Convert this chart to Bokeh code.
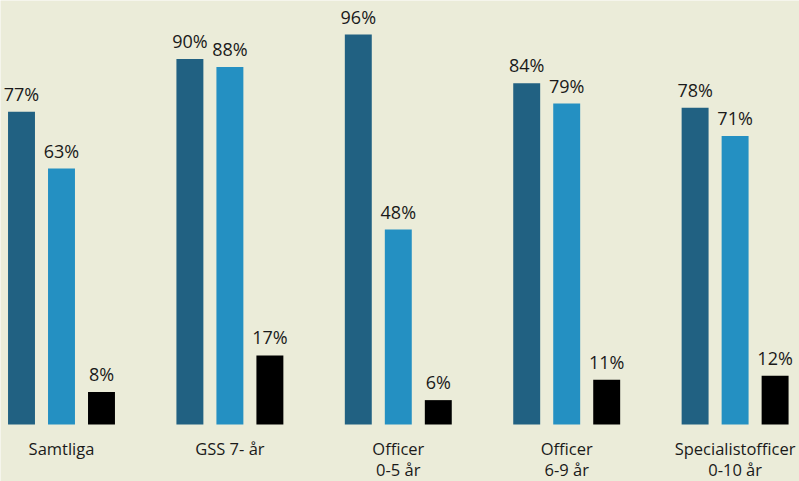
from bokeh.plotting import figure
from bokeh.models import ColumnDataSource, Range1d
from bokeh.core.properties import value
from bokeh.embed import file_html
from bokeh.resources import INLINE

categories = ["Samtliga", "GSS 7- år", "Officer\n0-5 år", "Officer\n6-9 år", "Specialistofficer\n0-10 år"]
series_a = [77, 90, 96, 84, 78]
series_b = [63, 88, 48, 79, 71]
series_c = [8, 17, 6, 11, 12]
colors = ["#216182", "#2490C2", "#000000"]

BG = "#EBECD9"
FONT = "Open Sans"

p = figure(width=799, height=481, output_backend="svg", toolbar_location=None,
           x_range=Range1d(-0.3622, 4.3824), y_range=Range1d(-14.03, 104.37),
           min_border=0, outline_line_color=None)
p.background_fill_color = BG
p.border_fill_color = BG
p.axis.visible = False
p.grid.visible = False

d = 0.2375
w = 0.16
for j, (vals, col) in enumerate(zip([series_a, series_b, series_c], colors)):
    xs = [i + (j - 1) * d for i in range(len(categories))]
    src = ColumnDataSource(dict(x=xs, top=vals, lab=[f"{v}%" for v in vals]))
    p.vbar(x="x", top="top", bottom=0, width=w, source=src, fill_color=col, line_color=None)
    p.text(x="x", y="top", text="lab", source=src, text_align="center",
           text_baseline="bottom", y_offset=-6, text_font=value(FONT),
           text_font_size="18px", text_color="#1a1a1a")

line1 = [c.split("\n")[0] for c in categories]
line2 = [c.split("\n")[1] if "\n" in c else "" for c in categories]
csrc = ColumnDataSource(dict(x=list(range(len(categories))), y=[0] * len(categories), l1=line1, l2=line2))
p.text(x="x", y="y", text="l1", source=csrc, text_align="center", text_baseline="middle",
       y_offset=24, text_font=value(FONT), text_font_size="16.5px", text_color="#1a1a1a")
p.text(x="x", y="y", text="l2", source=csrc, text_align="center", text_baseline="middle",
       y_offset=45, text_font=value(FONT), text_font_size="16.5px", text_color="#1a1a1a")

open("out.html", "w").write(file_html(p, INLINE))
